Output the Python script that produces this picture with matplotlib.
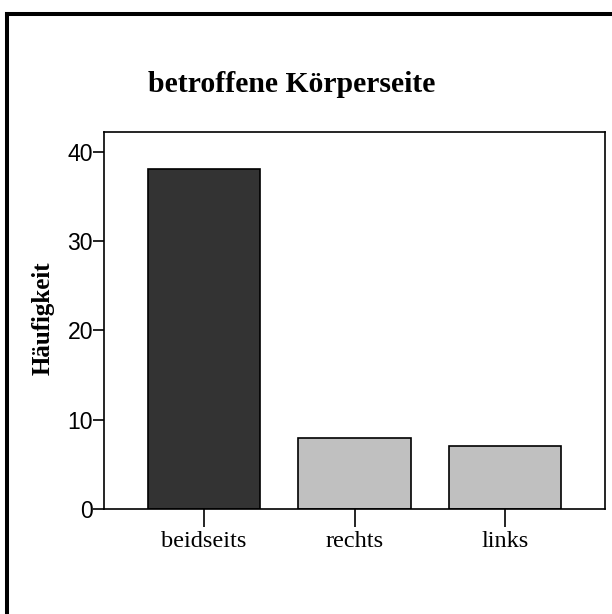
import matplotlib
matplotlib.use("Agg")
import matplotlib.pyplot as plt
from matplotlib.lines import Line2D

categories = ["beidseits", "rechts", "links"]
values = [38, 8, 7]
colors = ["#333333", "#c0c0c0", "#c0c0c0"]
yticks = [0, 10, 20, 30, 40]
title = "betroffene Körperseite"
ylabel = "Häufigkeit"

fig = plt.figure(figsize=(6.12, 6.14), dpi=100)
ax = fig.add_axes([104/612, 1-509/614, (605-104)/612, (509-131.5)/614])

x = list(range(len(categories)))
ax.bar(x, values, width=0.75, color=colors, edgecolor="black", linewidth=1.2, zorder=2)
ax.set_xlim(-0.665, 2.665)
ax.set_ylim(0, 42.25)
ax.set_yticks(yticks)
ax.set_yticklabels([str(t) for t in yticks], family="Liberation Sans", fontsize=16.6)
ax.set_xticks(x)
ax.set_xticklabels(categories, family="Liberation Serif", fontsize=17.5)
ax.tick_params(axis="y", direction="out", length=8, width=1.2, pad=0)
ax.tick_params(axis="x", direction="out", length=12.7, width=1.2, pad=3.4)
for s in ax.spines.values():
    s.set_linewidth(1.2)

fig.text(148/612, 1-91.7/614, title, family="Liberation Serif", fontweight="bold",
         fontsize=21.4, ha="left", va="baseline")
fig.text(43/612, 1-318.5/614, ylabel, family="Liberation Serif", fontweight="bold",
         fontsize=18, ha="center", va="center", rotation=90)

# outer frame (left and top edges)
fig.add_artist(Line2D([7/612, 7/612], [0, 1-14/614], transform=fig.transFigure,
                      color="black", linewidth=2.9, solid_capstyle="projecting"))
fig.add_artist(Line2D([7/612, 1], [1-14/614, 1-14/614], transform=fig.transFigure,
                      color="black", linewidth=2.9, solid_capstyle="projecting"))

fig.savefig("out.png", dpi=100)
